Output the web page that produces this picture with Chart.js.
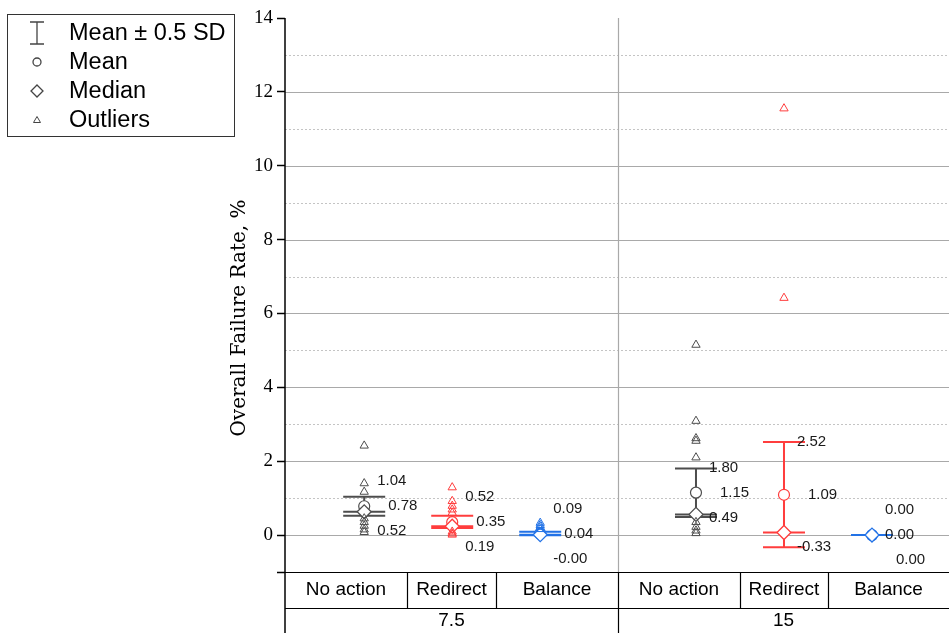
<!DOCTYPE html>
<html><head><meta charset="utf-8">
<script src="https://cdn.jsdelivr.net/npm/chart.js@4.4.1/dist/chart.umd.min.js"></script>
<style>html,body{margin:0;padding:0;background:#fff;}canvas{display:block}</style>
</head><body>
<canvas id="c" width="949" height="633"></canvas>
<script>
// ---- data ----
const concentrations = ['7.5', '15'];
const actions = ['No action', 'Redirect', 'Balance'];
const meanPlusHalfSD  = [1.04, 0.52, 0.09, 1.80, 2.52, 0.00];
const means           = [0.78, 0.35, 0.04, 1.15, 1.09, 0.00];
const meanMinusHalfSD = [0.52, 0.19, -0.004, 0.49, -0.33, 0.00];
const medians         = [0.63, 0.24, 0.01, 0.56, 0.07, 0.00];
const outliers = [
  [2.42, 1.40, 1.17, 0.45, 0.35, 0.25, 0.15, 0.08],
  [1.29, 0.92, 0.79, 0.69, 0.60, 0.09, 0.04, 0.01],
  [0.33, 0.27, 0.22, 0.16],
  [5.15, 3.09, 2.62, 2.55, 2.10, 0.35, 0.22, 0.12, 0.05],
  [11.55, 6.42],
  []
];
const yTickLabels = [0, 2, 4, 6, 8, 10, 12, 14];
const legendLabels = ['Mean \u00b1 0.5 SD', 'Mean', 'Median', 'Outliers'];
const yTitle = 'Overall Failure Rate, %';

// ---- layout (x-axis units) ----
const boxX = [0.9, 1.9, 2.9, 4.67, 5.67, 6.67];
const X_MAX = 7.545;
const groupDivider = 3.784;
const colEdges = [0, 1.386, 2.398, 3.784, 5.17, 6.17, 7.545];
const actionColors = ['#4d4d4d', '#ff3d3d', '#2272e6'];
const colorOf = i => actionColors[i % 3];

const datasets = [];
boxX.forEach((x, i) => {
  datasets.push({
    label: 'out' + i, data: outliers[i].map(v => ({x, y: v})),
    pointStyle: 'triangle', radius: 4.8, borderWidth: 1,
    borderColor: colorOf(i), backgroundColor: 'rgba(255,255,255,0)'
  });
});
boxX.forEach((x, i) => {
  datasets.push({
    label: 'median' + i, data: [{x, y: medians[i]}],
    pointStyle: 'rectRot', radius: 7, borderWidth: 1.3,
    borderColor: colorOf(i), backgroundColor: '#fff'
  });
  datasets.push({
    label: 'mean' + i, data: [{x, y: means[i]}],
    pointStyle: 'circle', radius: 5.5, borderWidth: 1.2,
    borderColor: colorOf(i), backgroundColor: '#fff'
  });
});

const fmt = v => v.toFixed(2);

const decor = {
  id: 'decor',
  beforeDatasetsDraw(chart) {
    const {ctx, chartArea: a, scales: {x: xs, y: ys}} = chart;
    ctx.save();
    for (let v = 0; v <= 13; v++) {
      const py = Math.round(ys.getPixelForValue(v)) + 0.5;
      ctx.beginPath();
      if (v % 2 === 0) { ctx.setLineDash([]); ctx.strokeStyle = '#a9a9a9'; ctx.lineWidth = 1.2; }
      else { ctx.setLineDash([2, 2]); ctx.strokeStyle = '#c4c4c4'; ctx.lineWidth = 1; }
      ctx.moveTo(a.left, py); ctx.lineTo(a.right, py); ctx.stroke();
    }
    ctx.setLineDash([]);
    const dx = Math.round(xs.getPixelForValue(groupDivider)) + 0.5;
    ctx.strokeStyle = '#a9a9a9'; ctx.lineWidth = 1.2;
    ctx.beginPath(); ctx.moveTo(dx, a.top); ctx.lineTo(dx, a.bottom); ctx.stroke();
    boxX.forEach((x, i) => {
      const px = xs.getPixelForValue(x);
      const yu = ys.getPixelForValue(meanPlusHalfSD[i]);
      const yl = ys.getPixelForValue(meanMinusHalfSD[i]);
      const ym = ys.getPixelForValue(medians[i]);
      ctx.strokeStyle = colorOf(i); ctx.lineWidth = 2;
      ctx.beginPath();
      ctx.moveTo(px, yu); ctx.lineTo(px, yl);
      ctx.moveTo(px - 21, yu); ctx.lineTo(px + 21, yu);
      ctx.moveTo(px - 21, yl); ctx.lineTo(px + 21, yl);
      ctx.moveTo(px - 21, ym); ctx.lineTo(px + 21, ym);
      ctx.stroke();
    });
    ctx.restore();
  },
  afterDatasetsDraw(chart) {
    const {ctx, scales: {x: xs, y: ys}} = chart;
    ctx.save();
    ctx.font = '15px "Liberation Sans", Arial, sans-serif';
    ctx.fillStyle = '#1a1a1a';
    ctx.textBaseline = 'middle';
    ctx.textAlign = 'left';
    boxX.forEach((x, i) => {
      const px = xs.getPixelForValue(x);
      const items = [
        {v: meanPlusHalfSD[i], off: 13},
        {v: meanMinusHalfSD[i], off: 13},
        {v: means[i], off: 24}
      ];
      const sorted = items.map((it, k) => ({...it, k})).sort((a, b) => (b.v - a.v) || (a.k - b.k));
      const midY = ys.getPixelForValue(sorted[1].v);
      const topY = Math.min(ys.getPixelForValue(sorted[0].v), midY - 25);
      const botY = Math.max(ys.getPixelForValue(sorted[2].v), midY + 25);
      [topY, midY, botY].forEach((py, k) => {
        ctx.fillText(fmt(sorted[k].v), px + sorted[k].off, py);
      });
    });
    ctx.restore();
  },
  afterDraw(chart) {
    const {ctx, chartArea: a, scales: {x: xs}} = chart;
    const H = chart.height;
    ctx.save();
    ctx.strokeStyle = '#000'; ctx.lineWidth = 1.5;
    ctx.beginPath(); ctx.moveTo(a.left, a.top); ctx.lineTo(a.left, H); ctx.stroke();
    const rowMid = a.bottom + 36;
    ctx.lineWidth = 1.2;
    ctx.beginPath();
    ctx.moveTo(a.left, a.bottom + 0.5); ctx.lineTo(a.right, a.bottom + 0.5);
    ctx.moveTo(a.left, rowMid + 0.5); ctx.lineTo(a.right, rowMid + 0.5);
    colEdges.slice(1, -1).forEach(e => {
      const ex = Math.round(xs.getPixelForValue(e)) + 0.5;
      ctx.moveTo(ex, a.bottom); ctx.lineTo(ex, e === groupDivider ? H : rowMid);
    });
    ctx.stroke();
    ctx.fillStyle = '#000';
    ctx.font = '19px "Liberation Sans", Arial, sans-serif';
    ctx.textAlign = 'center'; ctx.textBaseline = 'middle';
    for (let c = 0; c < 6; c++) {
      const cx = (xs.getPixelForValue(colEdges[c]) + xs.getPixelForValue(colEdges[c + 1])) / 2;
      ctx.fillText(actions[c % 3], cx, a.bottom + 18);
    }
    concentrations.forEach((t, g) => {
      const cx = (xs.getPixelForValue(colEdges[g * 3]) + xs.getPixelForValue(colEdges[g * 3 + 3])) / 2;
      ctx.fillText(t, cx, rowMid + 13);
    });
    ctx.save();
    ctx.translate(240, 318); ctx.rotate(-Math.PI / 2);
    ctx.font = '20px "DejaVu Serif", serif';
    ctx.fillText(yTitle, 0, 0);
    ctx.restore();
    // legend
    ctx.strokeStyle = '#333'; ctx.lineWidth = 1;
    ctx.strokeRect(7.5, 14.5, 227, 122);
    const lx = 37, rows = [33, 62, 91, 120];
    ctx.strokeStyle = '#444'; ctx.lineWidth = 1.3;
    ctx.beginPath();
    ctx.moveTo(lx, 22); ctx.lineTo(lx, 44);
    ctx.moveTo(lx - 7, 22); ctx.lineTo(lx + 7, 22);
    ctx.moveTo(lx - 7, 44); ctx.lineTo(lx + 7, 44);
    ctx.stroke();
    ctx.beginPath(); ctx.arc(lx, rows[1], 4, 0, Math.PI * 2); ctx.stroke();
    ctx.beginPath();
    ctx.moveTo(lx, rows[2] - 6); ctx.lineTo(lx + 6, rows[2]); ctx.lineTo(lx, rows[2] + 6); ctx.lineTo(lx - 6, rows[2]); ctx.closePath();
    ctx.stroke();
    ctx.lineWidth = 1;
    ctx.beginPath();
    ctx.moveTo(lx, rows[3] - 3.5); ctx.lineTo(lx + 3.5, rows[3] + 2.5); ctx.lineTo(lx - 3.5, rows[3] + 2.5); ctx.closePath();
    ctx.stroke();
    ctx.fillStyle = '#000';
    ctx.font = '23.5px "Liberation Sans", Arial, sans-serif';
    ctx.textAlign = 'left';
    legendLabels.forEach((t, k) => ctx.fillText(t, 69, rows[k] + 1));
    ctx.restore();
  }
};

new Chart(document.getElementById('c'), {
  type: 'scatter',
  data: {datasets},
  options: {
    responsive: false,
    devicePixelRatio: 1,
    animation: false,
    layout: {autoPadding: false, padding: {left: 225, top: 18, right: 0, bottom: 61}},
    plugins: {legend: {display: false}, tooltip: {enabled: false}},
    scales: {
      x: {type: 'linear', min: 0, max: X_MAX, display: false},
      y: {
        type: 'linear', min: -1, max: 14,
        afterFit: s => { s.width = 60; },
        border: {display: false},
        grid: {
          drawOnChartArea: false, drawTicks: true, tickLength: 8, tickWidth: 1.5,
          tickColor: c => (yTickLabels.includes(c.tick.value) || c.tick.value === -1) ? '#000' : 'rgba(0,0,0,0)'
        },
        ticks: {
          stepSize: 1, padding: 4, color: '#000',
          font: {family: '"Liberation Serif", serif', size: 19},
          callback: v => yTickLabels.includes(v) ? String(v) : ''
        }
      }
    }
  },
  plugins: [decor]
});
</script>
</body></html>
